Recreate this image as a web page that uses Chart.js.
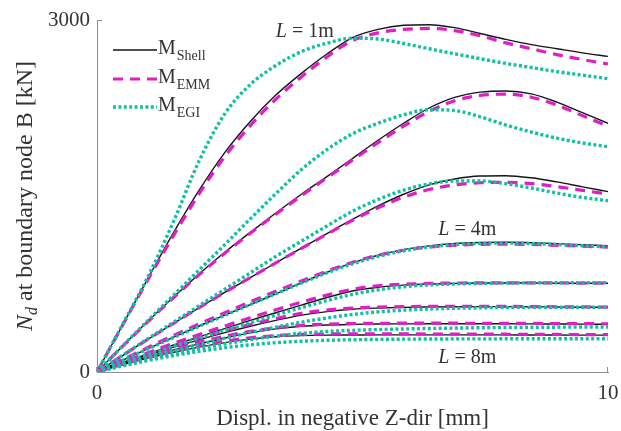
<!DOCTYPE html>
<html>
<head>
<meta charset="utf-8">
<script src="https://cdn.jsdelivr.net/npm/chart.js@4.4.1/dist/chart.umd.min.js"></script>
<style>
  html, body { margin: 0; padding: 0; background: #ffffff; }
  #wrap { width: 621px; height: 431px; position: relative; }
</style>
</head>
<body>
<div id="wrap"><canvas id="chart" width="621" height="431"></canvas></div>
<script>
// Displacement samples [mm]
const displ = [0, 0.5, 1, 1.5, 2, 2.5, 3, 3.5, 4, 4.5, 5, 5.5, 6, 6.5, 7, 7.5, 8, 8.5, 9, 9.5, 10];

// Axis tick values
const xTicks = [0, 10];
const yTicks = [0, 3000];

// Column lengths
const lengths = ['1m', '2m', '3m', '4m', '5m', '6m', '7m', '8m'];

// Normal force N_d [kN] - shell model
const shellL1 = [0, 400, 800, 1190, 1550, 1870, 2135, 2360, 2545, 2710, 2850, 2920, 2955, 2960, 2935, 2885, 2835, 2790, 2755, 2720, 2690];
const shellL2 = [0, 220, 435, 640, 835, 1020, 1190, 1355, 1515, 1665, 1820, 1975, 2120, 2250, 2340, 2385, 2395, 2370, 2300, 2210, 2120];
const shellL3 = [0, 140, 280, 415, 548, 678, 805, 930, 1055, 1180, 1300, 1415, 1515, 1595, 1645, 1670, 1673, 1655, 1620, 1578, 1537];
const shellL4 = [0, 100, 200, 297, 392, 485, 575, 665, 760, 850, 930, 995, 1043, 1075, 1095, 1104, 1106, 1102, 1094, 1085, 1076];
const shellL5 = [0, 80, 155, 230, 300, 370, 440, 505, 570, 635, 690, 722, 740, 750, 755, 758, 758, 758, 757, 756, 756];
const shellL6 = [0, 75, 145, 212, 275, 335, 390, 440, 485, 515, 535, 545, 551, 554, 556, 557, 557, 556, 554, 552, 551];
const shellL7 = [0, 68, 130, 188, 240, 290, 333, 368, 390, 401, 406, 409, 410, 411, 411, 411, 411, 410, 409, 408, 407];
const shellL8 = [0, 62, 118, 168, 212, 250, 280, 300, 310, 314, 315, 316, 316, 316, 316, 316, 316, 315, 315, 314, 314];

// Normal force N_d [kN] - EMM model
const emmL1 = [0, 398, 790, 1165, 1520, 1835, 2100, 2325, 2515, 2685, 2825, 2890, 2920, 2928, 2910, 2865, 2805, 2755, 2705, 2663, 2625];
const emmL2 = [0, 218, 430, 635, 830, 1012, 1182, 1345, 1502, 1655, 1805, 1955, 2095, 2222, 2312, 2358, 2368, 2342, 2275, 2185, 2095];
const emmL3 = [0, 140, 280, 415, 548, 678, 805, 930, 1053, 1175, 1293, 1400, 1490, 1555, 1595, 1613, 1616, 1605, 1580, 1548, 1517];
const emmL4 = [0, 105, 210, 312, 410, 505, 598, 688, 775, 860, 935, 995, 1038, 1065, 1080, 1088, 1090, 1087, 1080, 1072, 1065];
const emmL5 = [0, 85, 165, 245, 320, 392, 462, 530, 595, 655, 705, 735, 748, 755, 758, 760, 760, 760, 759, 758, 757];
const emmL6 = [0, 80, 155, 225, 290, 350, 405, 455, 500, 528, 545, 553, 557, 559, 560, 560, 559, 558, 556, 555, 553];
const emmL7 = [0, 73, 140, 200, 255, 305, 346, 378, 398, 408, 413, 415, 416, 416, 416, 415, 415, 414, 413, 412, 411];
const emmL8 = [0, 66, 125, 178, 224, 262, 292, 310, 320, 324, 325, 325, 325, 324, 324, 323, 322, 321, 320, 319, 318];

// Normal force N_d [kN] - EGI model
const egiL1 = [0, 405, 815, 1285, 1800, 2200, 2450, 2612, 2730, 2802, 2845, 2838, 2800, 2755, 2712, 2670, 2630, 2595, 2560, 2530, 2500];
const egiL2 = [0, 222, 440, 655, 870, 1085, 1305, 1520, 1725, 1895, 2030, 2120, 2192, 2235, 2228, 2175, 2105, 2045, 1993, 1952, 1920];
const egiL3 = [0, 142, 285, 425, 565, 705, 845, 985, 1115, 1245, 1370, 1470, 1550, 1603, 1628, 1628, 1605, 1568, 1525, 1488, 1460];
const egiL4 = [0, 100, 198, 295, 390, 483, 575, 667, 758, 845, 922, 985, 1033, 1066, 1086, 1096, 1099, 1095, 1086, 1076, 1066];
const egiL5 = [0, 78, 150, 220, 288, 355, 420, 485, 548, 608, 662, 700, 727, 742, 750, 755, 758, 760, 761, 761, 760];
const egiL6 = [0, 65, 125, 182, 236, 288, 337, 382, 425, 460, 490, 512, 527, 537, 543, 547, 550, 551, 552, 552, 552];
const egiL7 = [0, 58, 110, 157, 200, 240, 276, 306, 330, 345, 355, 362, 367, 371, 374, 377, 379, 381, 382, 383, 384];
const egiL8 = [0, 52, 98, 140, 176, 207, 232, 250, 262, 270, 275, 278, 280, 281, 282, 282, 283, 283, 284, 284, 284];

const shellSeries = [shellL1, shellL2, shellL3, shellL4, shellL5, shellL6, shellL7, shellL8];
const emmSeries = [emmL1, emmL2, emmL3, emmL4, emmL5, emmL6, emmL7, emmL8];
const egiSeries = [egiL1, egiL2, egiL3, egiL4, egiL5, egiL6, egiL7, egiL8];

// Line styles per model
const SERIF = "'Liberation Serif', 'Times New Roman', serif";
const TEXT = '#333333';
const AXIS = '#8f8f8f';
const models = [
  { key: 'Shell', data: shellSeries, color: '#151515', width: 1.4, dash: [], order: 3 },
  { key: 'EMM',   data: emmSeries,   color: '#e01ec6', width: 3.2, dash: [10, 7], order: 2 },
  { key: 'EGI',   data: egiSeries,   color: '#12c1a4', width: 3.4, dash: [3, 2.4], order: 1 }
];

const toPoints = ys => ys.map((v, i) => ({ x: displ[i], y: v }));

const datasets = [];
models.forEach(m => {
  m.data.forEach((ys, k) => {
    datasets.push({
      label: 'M' + m.key + ' L=' + lengths[k],
      data: toPoints(ys),
      borderColor: m.color,
      borderWidth: m.width,
      borderDash: m.dash,
      borderCapStyle: 'butt',
      pointRadius: 0,
      fill: false,
      cubicInterpolationMode: 'monotone',
      order: m.order
    });
  });
});

// Length annotations: [text after "L", x, y] in data units (left edge, baseline)
const lengthNotes = [
  [' = 1m', 3.5, 2855],
  [' = 4m', 6.68, 1168],
  [' = 8m', 6.68, 77]
];

const overlay = {
  id: 'overlay',
  afterDraw(chart) {
    const { ctx, scales } = chart;
    const xs = scales.x, ys = scales.y;
    const left = chart.chartArea.left, bottom = chart.chartArea.bottom;
    ctx.save();

    // inward tick marks at the axis ends
    ctx.strokeStyle = AXIS;
    ctx.lineWidth = 1;
    ctx.beginPath();
    yTicks.forEach(v => {
      const py = Math.round(ys.getPixelForValue(v)) + 0.5;
      ctx.moveTo(left, py); ctx.lineTo(left + 5, py);
    });
    xTicks.forEach(v => {
      const px = Math.round(xs.getPixelForValue(v)) - 0.5;
      ctx.moveTo(px, bottom); ctx.lineTo(px, bottom - 5);
    });
    ctx.stroke();

    // length labels
    ctx.fillStyle = TEXT;
    ctx.textBaseline = 'alphabetic';
    ctx.textAlign = 'left';
    lengthNotes.forEach(([rest, vx, vy]) => {
      const px = xs.getPixelForValue(vx), py = ys.getPixelForValue(vy);
      ctx.font = 'italic 20px ' + SERIF;
      ctx.fillText('L', px, py);
      const w = ctx.measureText('L').width;
      ctx.font = '20px ' + SERIF;
      ctx.fillText(rest, px + w, py);
    });

    // legend
    const lx0 = 113, lx1 = 157, rowY = [50, 79, 107];
    models.forEach((m, i) => {
      const y = rowY[i];
      ctx.strokeStyle = m.color;
      ctx.lineWidth = m.width;
      ctx.setLineDash(m.dash);
      ctx.lineCap = 'butt';
      ctx.beginPath();
      ctx.moveTo(lx0, y); ctx.lineTo(lx1, y);
      ctx.stroke();
      ctx.setLineDash([]);
      ctx.fillStyle = TEXT;
      ctx.font = '20px ' + SERIF;
      ctx.fillText('M', 158, y + 4);
      const mw = ctx.measureText('M').width;
      ctx.font = '14px ' + SERIF;
      ctx.fillText(m.key, 158 + mw + 1, y + 10);
    });

    // y-axis title with subscript
    const cy = (chart.chartArea.top + chart.chartArea.bottom) / 2;
    ctx.translate(32, cy);
    ctx.rotate(-Math.PI / 2);
    const partN = 'N', partD = 'd', partRest = ' at boundary node B [kN]';
    ctx.font = 'italic 24px ' + SERIF;
    const wN = ctx.measureText(partN).width;
    ctx.font = 'italic 16px ' + SERIF;
    const wD = ctx.measureText(partD).width;
    ctx.font = '24px ' + SERIF;
    const wR = ctx.measureText(partRest).width;
    let tx = -(wN + wD + wR) / 2;
    ctx.fillStyle = TEXT;
    ctx.font = 'italic 24px ' + SERIF;
    ctx.fillText(partN, tx, 0);
    tx += wN;
    ctx.font = 'italic 16px ' + SERIF;
    ctx.fillText(partD, tx, 5);
    tx += wD;
    ctx.font = '24px ' + SERIF;
    ctx.fillText(partRest, tx, 0);

    ctx.restore();
  }
};

new Chart(document.getElementById('chart'), {
  type: 'line',
  data: { datasets },
  options: {
    responsive: false,
    animation: false,
    devicePixelRatio: 1,
    layout: { padding: { left: 0, right: 13, top: 20, bottom: 0 } },
    plugins: { legend: { display: false }, tooltip: { enabled: false } },
    scales: {
      x: {
        type: 'linear',
        min: xTicks[0],
        max: xTicks[1],
        afterBuildTicks: s => { s.ticks = xTicks.map(v => ({ value: v })); },
        ticks: { color: TEXT, font: { family: SERIF, size: 21 }, padding: 9, maxRotation: 0, callback: v => String(v) },
        grid: { display: false, drawTicks: false },
        border: { display: true, color: AXIS, width: 1 },
        title: {
          display: true,
          text: 'Displ. in negative Z-dir [mm]',
          color: TEXT,
          font: { family: SERIF, size: 23, lineHeight: 1.05 },
          padding: { top: 0, bottom: 0 }
        },
        afterFit: s => { s.height = 59; s.paddingLeft = 0; s.paddingRight = 0; }
      },
      y: {
        type: 'linear',
        min: yTicks[0],
        max: yTicks[1],
        afterBuildTicks: s => { s.ticks = yTicks.map(v => ({ value: v })); },
        ticks: { color: TEXT, font: { family: SERIF, size: 21 }, padding: 7, callback: v => String(v) },
        grid: { display: false, drawTicks: false },
        border: { display: true, color: AXIS, width: 1 },
        afterFit: s => { s.width = 97; s.paddingTop = 0; s.paddingBottom = 0; }
      }
    }
  },
  plugins: [overlay]
});
</script>
</body>
</html>
